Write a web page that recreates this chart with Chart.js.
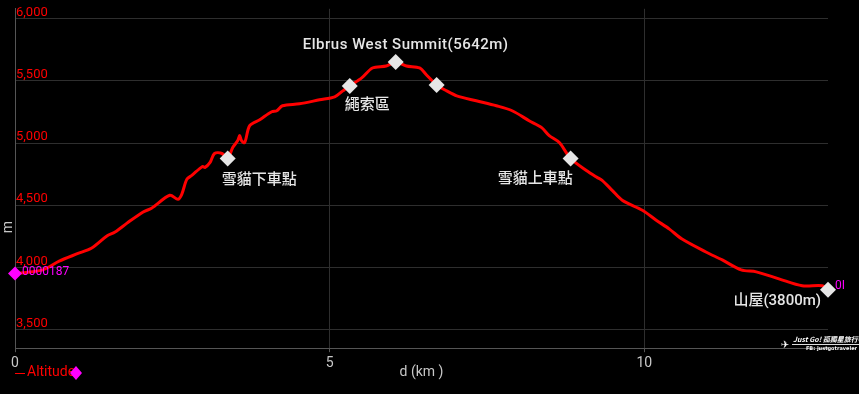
<!DOCTYPE html>
<html>
<head>
<meta charset="utf-8">
<script src="https://cdn.jsdelivr.net/npm/chart.js@4"></script>
<style>
  html, body { margin: 0; padding: 0; background: #000; }
  #wrap { width: 859px; height: 394px; }
</style>
</head>
<body>
<div id="wrap"><canvas id="profileChart"></canvas></div>
<script>
// elevation profile
const distKm = [0, 0.44, 0.71, 0.98, 1.22, 1.46, 1.59, 1.78, 2.03, 2.17, 2.46, 2.59, 2.65, 2.73, 2.81,
  2.98, 3.02, 3.10, 3.17, 3.29, 3.38, 3.46, 3.54, 3.57, 3.60, 3.65, 3.73, 3.89, 4.08, 4.16, 4.25,
  4.52, 4.84, 5.08, 5.21, 5.32, 5.51, 5.68, 5.90, 6.05, 6.22, 6.43, 6.54, 6.70, 6.86, 7.02, 7.33,
  7.65, 7.90, 8.17, 8.37, 8.49, 8.65, 8.83, 9.08, 9.25, 9.33, 9.49, 9.65, 9.97, 10.19, 10.40, 10.60,
  10.98, 11.24, 11.54, 11.78, 12.14, 12.51, 12.83, 12.92];
const altM = [3950, 3980, 4052, 4108, 4156, 4252, 4284, 4356, 4444, 4476, 4580, 4548, 4588, 4708, 4740,
  4812, 4804, 4844, 4916, 4916, 4876, 4964, 5020, 5060, 5020, 5004, 5140, 5188, 5252, 5260, 5300,
  5316, 5348, 5372, 5420, 5460, 5524, 5604, 5620, 5652, 5620, 5604, 5548, 5468, 5420, 5380, 5340,
  5300, 5260, 5180, 5124, 5060, 5004, 4876, 4780, 4724, 4700, 4620, 4540, 4460, 4380, 4308, 4228,
  4124, 4060, 3980, 3964, 3908, 3852, 3852, 3820];

// waypoints (white diamonds)
const markerKm = [3.38, 5.32, 6.05, 6.70, 8.83, 12.92];
const markerAlt = [4876, 5460, 5652, 5468, 4876, 3820];
const markerNames = ["雪貓下車點", "繩索區", "Elbrus West Summit(5642m)", "", "雪貓上車點", "山屋(3800m)"];

// magenta start / end points
const tagKm = [0, 12.92];
const tagAlt = [3950, 3820];
const tagNames = ["0000187", "0I"];

const xTicks = [0, 5, 10];
const yTicks = [3500, 4000, 4500, 5000, 5500, 6000];
const seriesName = "Altitude";

// label placement relative to each diamond: [dx, dy, align]
const markerLabelPos = [[-6, 22, "left"], [-5, 19, "left"], [10, -17, "center"], [0, 0, "left"], [2, 21, "right"], [-7, 11, "right"]];
const tagLabelPos = [[7, -2], [7, -4]];

const labelFont = '500 15px Roboto, "Noto Sans CJK TC", sans-serif';

const overlayPlugin = {
  id: "overlay",
  afterDatasetsDraw(chart) {
    const ctx = chart.ctx;
    const xs = chart.scales.x, ys = chart.scales.y;
    ctx.save();
    ctx.textBaseline = "middle";
    ctx.font = labelFont;
    ctx.fillStyle = "#e6e6e6";
    markerNames.forEach((name, i) => {
      if (!name) return;
      const p = markerLabelPos[i];
      ctx.textAlign = p[2];
      ctx.letterSpacing = /^[\x00-\x7f]+$/.test(name) ? "0.5px" : "0px";
      ctx.fillText(name, xs.getPixelForValue(markerKm[i]) + p[0], ys.getPixelForValue(markerAlt[i]) + p[1]);
    });
    ctx.letterSpacing = "0px";
    ctx.font = "12px Roboto, sans-serif";
    ctx.fillStyle = "#ff00ff";
    ctx.textAlign = "left";
    tagNames.forEach((name, i) => {
      ctx.fillText(name, xs.getPixelForValue(tagKm[i]) + tagLabelPos[i][0], ys.getPixelForValue(tagAlt[i]) + tagLabelPos[i][1]);
    });
    ctx.restore();
  },
  afterDraw(chart) {
    const ctx = chart.ctx;
    const area = chart.chartArea;
    const rowY = 372;
    ctx.save();
    // axis titles
    ctx.font = "14px Roboto, sans-serif";
    ctx.fillStyle = "#c8c8c8";
    ctx.textAlign = "center";
    ctx.textBaseline = "middle";
    ctx.fillText("d (km )", (area.left + area.right) / 2, rowY);
    ctx.save();
    ctx.translate(8, 227);
    ctx.rotate(-Math.PI / 2);
    ctx.fillText("m", 0, 0);
    ctx.restore();
    // legend
    ctx.strokeStyle = "#ff0000";
    ctx.lineWidth = 1;
    ctx.beginPath();
    ctx.moveTo(15, rowY + 1.5);
    ctx.lineTo(25, rowY + 1.5);
    ctx.stroke();
    ctx.fillStyle = "#ff0000";
    ctx.textAlign = "left";
    ctx.fillText(seriesName, 27, rowY);
    ctx.fillStyle = "#ff00ff";
    ctx.beginPath();
    ctx.moveTo(76, rowY - 6);
    ctx.lineTo(82, rowY + 1);
    ctx.lineTo(76, rowY + 8);
    ctx.lineTo(70, rowY + 1);
    ctx.closePath();
    ctx.fill();
    // watermark
    ctx.fillStyle = "#ffffff";
    ctx.strokeStyle = "#dddddd";
    ctx.beginPath();
    ctx.moveTo(792, 344.5);
    ctx.lineTo(859, 344.5);
    ctx.stroke();
    ctx.font = "10px 'DejaVu Sans', sans-serif";
    ctx.textAlign = "center";
    ctx.fillText("✈", 785, 345);
    ctx.font = "italic bold 7px 'Noto Sans CJK TC', sans-serif";
    ctx.textAlign = "left";
    ctx.fillText("Just Go! 孤獨星旅行©", 793, 339);
    ctx.font = "bold 5px 'DejaVu Sans', sans-serif";
    ctx.textAlign = "right";
    ctx.fillText("FB: justgotraveler", 857, 349);
    ctx.restore();
  }
};

const ctx = document.getElementById("profileChart").getContext("2d");
new Chart(ctx, {
  type: "line",
  data: {
    datasets: [
      {
        label: "waypoints",
        data: markerKm.map((x, i) => ({ x: x, y: markerAlt[i] })),
        showLine: false,
        clip: false,
        pointStyle: "rectRot",
        pointRadius: 8,
        pointBackgroundColor: "#e6e6e6",
        pointBorderWidth: 0,
        order: 0
      },
      {
        label: "tags",
        data: tagKm.map((x, i) => ({ x: x, y: tagAlt[i] })),
        showLine: false,
        clip: false,
        pointStyle: "rectRot",
        pointRadius: 7,
        pointBackgroundColor: "#ff00ff",
        pointBorderWidth: 0,
        order: 1
      },
      {
        label: seriesName,
        data: distKm.map((x, i) => ({ x: x, y: altM[i] })),
        borderColor: "#ff0000",
        borderWidth: 3,
        pointRadius: 0,
        tension: 0.3,
        fill: false,
        clip: false,
        order: 2
      }
    ]
  },
  plugins: [overlayPlugin],
  options: {
    responsive: true,
    maintainAspectRatio: false,
    animation: false,
    layout: { padding: { top: 5, right: 31, bottom: 19, left: 13 } },
    plugins: {
      legend: { display: false },
      tooltip: { enabled: false }
    },
    scales: {
      x: {
        type: "linear",
        min: 0,
        max: 12.92,
        afterBuildTicks: (scale) => { scale.ticks = xTicks.map((v) => ({ value: v })); },
        ticks: {
          color: "#c8c8c8",
          font: { family: "Roboto", size: 14 },
          padding: 3,
          maxRotation: 0
        },
        grid: { color: "#2e2e2e", tickColor: "#555", tickLength: 4 },
        border: { color: "#555" }
      },
      y: {
        min: 3350,
        max: 6080,
        afterBuildTicks: (scale) => { scale.ticks = yTicks.map((v) => ({ value: v })); },
        ticks: {
          mirror: true,
          padding: 1,
          labelOffset: -6,
          color: "#ff0000",
          font: { family: "Roboto", size: 13 }
        },
        grid: { color: "#2e2e2e", drawTicks: false },
        border: { color: "#555" }
      }
    }
  }
});
</script>
</body>
</html>
